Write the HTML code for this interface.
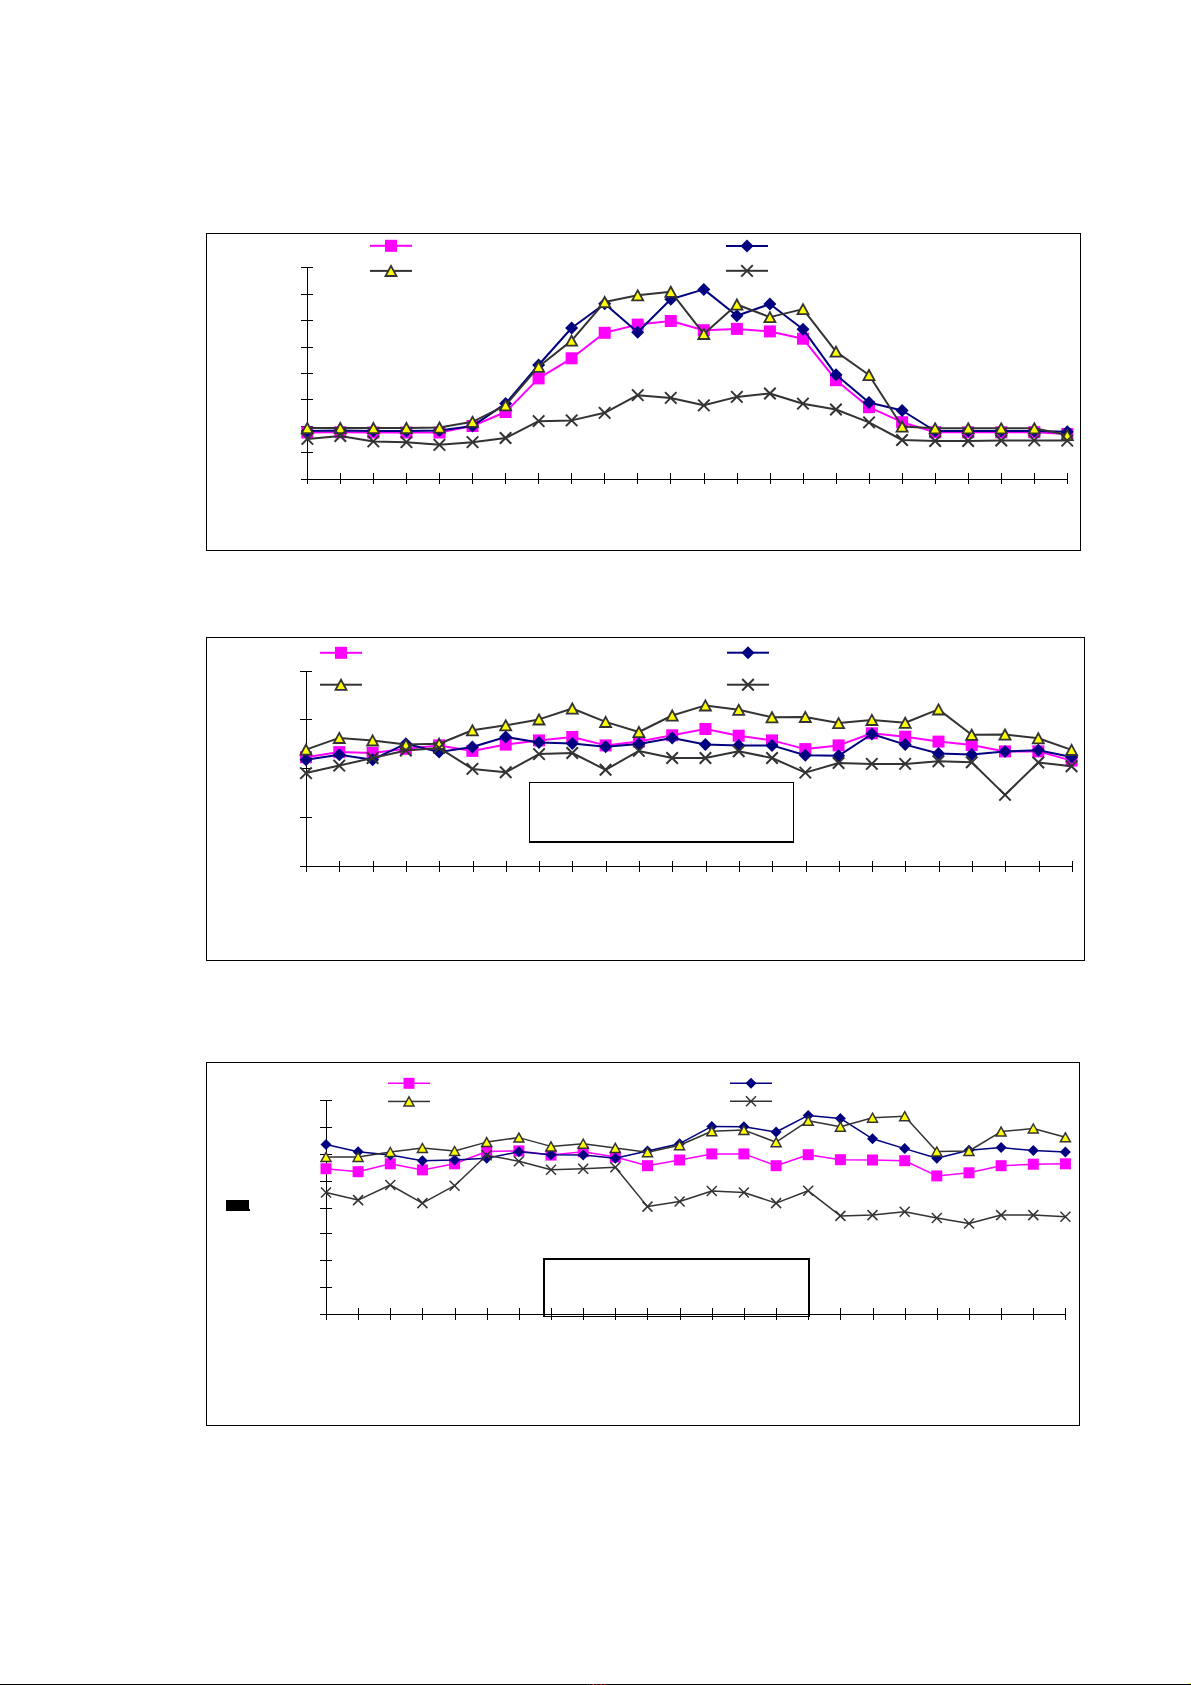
<!DOCTYPE html>
<html><head><meta charset="utf-8"><title>Charts</title>
<style>html,body{margin:0;padding:0;background:#fff;width:1191px;height:1685px;overflow:hidden;font-family:"Liberation Sans",sans-serif;}</style>
</head><body>
<svg width="1191" height="1685" viewBox="0 0 1191 1685" style="display:block">
<rect width="1191" height="1685" fill="#fff"/>
<rect x="206" y="233" width="875" height="1" fill="#000"/>
<rect x="206" y="550" width="875" height="1" fill="#000"/>
<rect x="206" y="233" width="1" height="318" fill="#000"/>
<rect x="1080" y="233" width="1" height="318" fill="#000"/>
<rect x="307" y="267" width="1" height="213" fill="#000"/>
<rect x="301" y="267" width="12" height="1" fill="#000"/>
<rect x="301" y="294" width="12" height="1" fill="#000"/>
<rect x="301" y="320" width="12" height="1" fill="#000"/>
<rect x="301" y="347" width="12" height="1" fill="#000"/>
<rect x="301" y="373" width="12" height="1" fill="#000"/>
<rect x="301" y="399" width="12" height="1" fill="#000"/>
<rect x="301" y="426" width="12" height="1" fill="#000"/>
<rect x="301" y="452" width="12" height="1" fill="#000"/>
<rect x="301" y="479" width="12" height="1" fill="#000"/>
<rect x="301" y="479" width="767" height="1" fill="#000"/>
<rect x="307" y="473" width="1" height="11" fill="#000"/>
<rect x="340" y="473" width="1" height="11" fill="#000"/>
<rect x="373" y="473" width="1" height="11" fill="#000"/>
<rect x="406" y="473" width="1" height="11" fill="#000"/>
<rect x="439" y="473" width="1" height="11" fill="#000"/>
<rect x="472" y="473" width="1" height="11" fill="#000"/>
<rect x="505" y="473" width="1" height="11" fill="#000"/>
<rect x="538" y="473" width="1" height="11" fill="#000"/>
<rect x="571" y="473" width="1" height="11" fill="#000"/>
<rect x="604" y="473" width="1" height="11" fill="#000"/>
<rect x="637" y="473" width="1" height="11" fill="#000"/>
<rect x="670" y="473" width="1" height="11" fill="#000"/>
<rect x="704" y="473" width="1" height="11" fill="#000"/>
<rect x="737" y="473" width="1" height="11" fill="#000"/>
<rect x="770" y="473" width="1" height="11" fill="#000"/>
<rect x="803" y="473" width="1" height="11" fill="#000"/>
<rect x="836" y="473" width="1" height="11" fill="#000"/>
<rect x="869" y="473" width="1" height="11" fill="#000"/>
<rect x="902" y="473" width="1" height="11" fill="#000"/>
<rect x="935" y="473" width="1" height="11" fill="#000"/>
<rect x="968" y="473" width="1" height="11" fill="#000"/>
<rect x="1001" y="473" width="1" height="11" fill="#000"/>
<rect x="1034" y="473" width="1" height="11" fill="#000"/>
<rect x="1067" y="473" width="1" height="11" fill="#000"/>
<rect x="370" y="244.8" width="42" height="2" fill="#FF00FF"/>
<rect x="385" y="239.8" width="12" height="12" fill="#FF00FF"/>
<rect x="726" y="245" width="42" height="2" fill="#000080"/>
<path d="M747 239.5L753.5 246L747 252.5L740.5 246Z" fill="#000080"/>
<rect x="370" y="269.9" width="42" height="2" fill="#333333"/>
<path d="M391 265.9L396.5 276L385.5 276Z" fill="#FFFF00" stroke="#333333" stroke-width="1.8" stroke-linejoin="miter"/>
<rect x="726" y="269.8" width="42" height="2" fill="#333333"/>
<path d="M741.2 265.1L752.8 276.6M752.8 265.1L741.2 276.6" stroke="#333333" stroke-width="2" fill="none"/>
<polyline points="307.3,432.5 340.3,432.2 373.4,432.5 406.4,432.5 439.5,432.5 472.5,426 505.6,412 538.6,378.4 571.6,358.3 604.7,332.8 637.7,324.6 670.8,321 703.8,330.2 736.9,328.9 769.9,331.4 803,338.7 836,380.2 869,407.2 902.1,422.2 935.1,432.2 968.2,432.3 1001.2,432.3 1034.3,432.2 1067.3,434" fill="none" stroke="#FF00FF" stroke-width="2" stroke-linejoin="round"/>
<rect x="301.3" y="426.5" width="12" height="12" fill="#FF00FF"/>
<rect x="334.3" y="426.2" width="12" height="12" fill="#FF00FF"/>
<rect x="367.4" y="426.5" width="12" height="12" fill="#FF00FF"/>
<rect x="400.4" y="426.5" width="12" height="12" fill="#FF00FF"/>
<rect x="433.5" y="426.5" width="12" height="12" fill="#FF00FF"/>
<rect x="466.5" y="420" width="12" height="12" fill="#FF00FF"/>
<rect x="499.6" y="406" width="12" height="12" fill="#FF00FF"/>
<rect x="532.6" y="372.4" width="12" height="12" fill="#FF00FF"/>
<rect x="565.6" y="352.3" width="12" height="12" fill="#FF00FF"/>
<rect x="598.7" y="326.8" width="12" height="12" fill="#FF00FF"/>
<rect x="631.7" y="318.6" width="12" height="12" fill="#FF00FF"/>
<rect x="664.8" y="315" width="12" height="12" fill="#FF00FF"/>
<rect x="697.8" y="324.2" width="12" height="12" fill="#FF00FF"/>
<rect x="730.9" y="322.9" width="12" height="12" fill="#FF00FF"/>
<rect x="763.9" y="325.4" width="12" height="12" fill="#FF00FF"/>
<rect x="797" y="332.7" width="12" height="12" fill="#FF00FF"/>
<rect x="830" y="374.2" width="12" height="12" fill="#FF00FF"/>
<rect x="863" y="401.2" width="12" height="12" fill="#FF00FF"/>
<rect x="896.1" y="416.2" width="12" height="12" fill="#FF00FF"/>
<rect x="929.1" y="426.2" width="12" height="12" fill="#FF00FF"/>
<rect x="962.2" y="426.3" width="12" height="12" fill="#FF00FF"/>
<rect x="995.2" y="426.3" width="12" height="12" fill="#FF00FF"/>
<rect x="1028.3" y="426.2" width="12" height="12" fill="#FF00FF"/>
<rect x="1061.3" y="428" width="12" height="12" fill="#FF00FF"/>
<polyline points="307.3,431 340.3,430.5 373.4,431 406.4,431 439.5,430.5 472.5,426.1 505.6,403.6 538.6,365 571.6,328 604.7,303.7 637.7,332.2 670.8,299.2 703.8,289.4 736.9,315.8 769.9,304 803,329.2 836,374.8 869,402.5 902.1,410.5 935.1,431 968.2,431 1001.2,431 1034.3,430.9 1067.3,431.7" fill="none" stroke="#000080" stroke-width="2" stroke-linejoin="round"/>
<path d="M307.3 424.5L313.8 431L307.3 437.5L300.8 431Z" fill="#000080"/>
<path d="M340.3 424L346.8 430.5L340.3 437L333.8 430.5Z" fill="#000080"/>
<path d="M373.4 424.5L379.9 431L373.4 437.5L366.9 431Z" fill="#000080"/>
<path d="M406.4 424.5L412.9 431L406.4 437.5L399.9 431Z" fill="#000080"/>
<path d="M439.5 424L446 430.5L439.5 437L433 430.5Z" fill="#000080"/>
<path d="M472.5 419.6L479 426.1L472.5 432.6L466 426.1Z" fill="#000080"/>
<path d="M505.6 397.1L512.1 403.6L505.6 410.1L499.1 403.6Z" fill="#000080"/>
<path d="M538.6 358.5L545.1 365L538.6 371.5L532.1 365Z" fill="#000080"/>
<path d="M571.6 321.5L578.1 328L571.6 334.5L565.1 328Z" fill="#000080"/>
<path d="M604.7 297.2L611.2 303.7L604.7 310.2L598.2 303.7Z" fill="#000080"/>
<path d="M637.7 325.7L644.2 332.2L637.7 338.7L631.2 332.2Z" fill="#000080"/>
<path d="M670.8 292.7L677.3 299.2L670.8 305.7L664.3 299.2Z" fill="#000080"/>
<path d="M703.8 282.9L710.3 289.4L703.8 295.9L697.3 289.4Z" fill="#000080"/>
<path d="M736.9 309.3L743.4 315.8L736.9 322.3L730.4 315.8Z" fill="#000080"/>
<path d="M769.9 297.5L776.4 304L769.9 310.5L763.4 304Z" fill="#000080"/>
<path d="M803 322.7L809.5 329.2L803 335.7L796.5 329.2Z" fill="#000080"/>
<path d="M836 368.3L842.5 374.8L836 381.3L829.5 374.8Z" fill="#000080"/>
<path d="M869 396L875.5 402.5L869 409L862.5 402.5Z" fill="#000080"/>
<path d="M902.1 404L908.6 410.5L902.1 417L895.6 410.5Z" fill="#000080"/>
<path d="M935.1 424.5L941.6 431L935.1 437.5L928.6 431Z" fill="#000080"/>
<path d="M968.2 424.5L974.7 431L968.2 437.5L961.7 431Z" fill="#000080"/>
<path d="M1001.2 424.5L1007.7 431L1001.2 437.5L994.7 431Z" fill="#000080"/>
<path d="M1034.3 424.4L1040.8 430.9L1034.3 437.4L1027.8 430.9Z" fill="#000080"/>
<path d="M1067.3 425.2L1073.8 431.7L1067.3 438.2L1060.8 431.7Z" fill="#000080"/>
<polyline points="307.3,428 340.3,428 373.4,428 406.4,428 439.5,427.5 472.5,421.8 505.6,405.3 538.6,366.7 571.6,340.6 604.7,302 637.7,295.3 670.8,291.7 703.8,333.9 736.9,304.5 769.9,317.1 803,309.1 836,351.6 869,375 902.1,426.5 935.1,428.3 968.2,428.3 1001.2,428.3 1034.3,428.3 1067.3,435" fill="none" stroke="#333333" stroke-width="2" stroke-linejoin="round"/>
<path d="M307.3 423L312.8 433.1L301.8 433.1Z" fill="#FFFF00" stroke="#333333" stroke-width="1.8" stroke-linejoin="miter"/>
<path d="M340.3 423L345.8 433.1L334.8 433.1Z" fill="#FFFF00" stroke="#333333" stroke-width="1.8" stroke-linejoin="miter"/>
<path d="M373.4 423L378.9 433.1L367.9 433.1Z" fill="#FFFF00" stroke="#333333" stroke-width="1.8" stroke-linejoin="miter"/>
<path d="M406.4 423L411.9 433.1L400.9 433.1Z" fill="#FFFF00" stroke="#333333" stroke-width="1.8" stroke-linejoin="miter"/>
<path d="M439.5 422.5L445 432.6L434 432.6Z" fill="#FFFF00" stroke="#333333" stroke-width="1.8" stroke-linejoin="miter"/>
<path d="M472.5 416.8L478 426.9L467 426.9Z" fill="#FFFF00" stroke="#333333" stroke-width="1.8" stroke-linejoin="miter"/>
<path d="M505.6 400.3L511.1 410.4L500.1 410.4Z" fill="#FFFF00" stroke="#333333" stroke-width="1.8" stroke-linejoin="miter"/>
<path d="M538.6 361.7L544.1 371.8L533.1 371.8Z" fill="#FFFF00" stroke="#333333" stroke-width="1.8" stroke-linejoin="miter"/>
<path d="M571.6 335.6L577.1 345.7L566.1 345.7Z" fill="#FFFF00" stroke="#333333" stroke-width="1.8" stroke-linejoin="miter"/>
<path d="M604.7 297L610.2 307.1L599.2 307.1Z" fill="#FFFF00" stroke="#333333" stroke-width="1.8" stroke-linejoin="miter"/>
<path d="M637.7 290.3L643.2 300.4L632.2 300.4Z" fill="#FFFF00" stroke="#333333" stroke-width="1.8" stroke-linejoin="miter"/>
<path d="M670.8 286.7L676.3 296.8L665.3 296.8Z" fill="#FFFF00" stroke="#333333" stroke-width="1.8" stroke-linejoin="miter"/>
<path d="M703.8 328.9L709.3 339L698.3 339Z" fill="#FFFF00" stroke="#333333" stroke-width="1.8" stroke-linejoin="miter"/>
<path d="M736.9 299.5L742.4 309.6L731.4 309.6Z" fill="#FFFF00" stroke="#333333" stroke-width="1.8" stroke-linejoin="miter"/>
<path d="M769.9 312.1L775.4 322.2L764.4 322.2Z" fill="#FFFF00" stroke="#333333" stroke-width="1.8" stroke-linejoin="miter"/>
<path d="M803 304.1L808.5 314.2L797.5 314.2Z" fill="#FFFF00" stroke="#333333" stroke-width="1.8" stroke-linejoin="miter"/>
<path d="M836 346.6L841.5 356.7L830.5 356.7Z" fill="#FFFF00" stroke="#333333" stroke-width="1.8" stroke-linejoin="miter"/>
<path d="M869 370L874.5 380.1L863.5 380.1Z" fill="#FFFF00" stroke="#333333" stroke-width="1.8" stroke-linejoin="miter"/>
<path d="M902.1 421.5L907.6 431.6L896.6 431.6Z" fill="#FFFF00" stroke="#333333" stroke-width="1.8" stroke-linejoin="miter"/>
<path d="M935.1 423.3L940.6 433.4L929.6 433.4Z" fill="#FFFF00" stroke="#333333" stroke-width="1.8" stroke-linejoin="miter"/>
<path d="M968.2 423.3L973.7 433.4L962.7 433.4Z" fill="#FFFF00" stroke="#333333" stroke-width="1.8" stroke-linejoin="miter"/>
<path d="M1001.2 423.3L1006.7 433.4L995.7 433.4Z" fill="#FFFF00" stroke="#333333" stroke-width="1.8" stroke-linejoin="miter"/>
<path d="M1034.3 423.3L1039.8 433.4L1028.8 433.4Z" fill="#FFFF00" stroke="#333333" stroke-width="1.8" stroke-linejoin="miter"/>
<path d="M1067.3 430L1072.8 440.1L1061.8 440.1Z" fill="#FFFF00" stroke="#333333" stroke-width="1.8" stroke-linejoin="miter"/>
<polyline points="307.3,438.9 340.3,436 373.4,441.4 406.4,442.2 439.5,444.8 472.5,442.2 505.6,438 538.6,421.2 571.6,420.4 604.7,412.8 637.7,395.2 670.8,397.9 703.8,405.3 736.9,396.9 769.9,393.5 803,403.7 836,409.5 869,422.4 902.1,440 935.1,441 968.2,441 1001.2,440.5 1034.3,440.4 1067.3,440.6" fill="none" stroke="#333333" stroke-width="2" stroke-linejoin="round"/>
<path d="M301.6 433.1L313.1 444.6M313.1 433.1L301.6 444.6" stroke="#333333" stroke-width="2" fill="none"/>
<path d="M334.6 430.2L346.1 441.8M346.1 430.2L334.6 441.8" stroke="#333333" stroke-width="2" fill="none"/>
<path d="M367.6 435.6L379.1 447.1M379.1 435.6L367.6 447.1" stroke="#333333" stroke-width="2" fill="none"/>
<path d="M400.7 436.4L412.2 447.9M412.2 436.4L400.7 447.9" stroke="#333333" stroke-width="2" fill="none"/>
<path d="M433.7 439.1L445.2 450.6M445.2 439.1L433.7 450.6" stroke="#333333" stroke-width="2" fill="none"/>
<path d="M466.8 436.4L478.3 447.9M478.3 436.4L466.8 447.9" stroke="#333333" stroke-width="2" fill="none"/>
<path d="M499.8 432.2L511.3 443.8M511.3 432.2L499.8 443.8" stroke="#333333" stroke-width="2" fill="none"/>
<path d="M532.9 415.4L544.4 426.9M544.4 415.4L532.9 426.9" stroke="#333333" stroke-width="2" fill="none"/>
<path d="M565.9 414.6L577.4 426.1M577.4 414.6L565.9 426.1" stroke="#333333" stroke-width="2" fill="none"/>
<path d="M598.9 407.1L610.4 418.6M610.4 407.1L598.9 418.6" stroke="#333333" stroke-width="2" fill="none"/>
<path d="M632 389.4L643.5 400.9M643.5 389.4L632 400.9" stroke="#333333" stroke-width="2" fill="none"/>
<path d="M665 392.1L676.5 403.6M676.5 392.1L665 403.6" stroke="#333333" stroke-width="2" fill="none"/>
<path d="M698.1 399.6L709.6 411.1M709.6 399.6L698.1 411.1" stroke="#333333" stroke-width="2" fill="none"/>
<path d="M731.1 391.1L742.6 402.6M742.6 391.1L731.1 402.6" stroke="#333333" stroke-width="2" fill="none"/>
<path d="M764.2 387.8L775.7 399.2M775.7 387.8L764.2 399.2" stroke="#333333" stroke-width="2" fill="none"/>
<path d="M797.2 397.9L808.7 409.4M808.7 397.9L797.2 409.4" stroke="#333333" stroke-width="2" fill="none"/>
<path d="M830.2 403.8L841.7 415.2M841.7 403.8L830.2 415.2" stroke="#333333" stroke-width="2" fill="none"/>
<path d="M863.3 416.6L874.8 428.1M874.8 416.6L863.3 428.1" stroke="#333333" stroke-width="2" fill="none"/>
<path d="M896.3 434.2L907.8 445.8M907.8 434.2L896.3 445.8" stroke="#333333" stroke-width="2" fill="none"/>
<path d="M929.4 435.2L940.9 446.8M940.9 435.2L929.4 446.8" stroke="#333333" stroke-width="2" fill="none"/>
<path d="M962.4 435.2L973.9 446.8M973.9 435.2L962.4 446.8" stroke="#333333" stroke-width="2" fill="none"/>
<path d="M995.5 434.8L1007 446.2M1007 434.8L995.5 446.2" stroke="#333333" stroke-width="2" fill="none"/>
<path d="M1028.5 434.6L1040 446.1M1040 434.6L1028.5 446.1" stroke="#333333" stroke-width="2" fill="none"/>
<path d="M1061.5 434.9L1073 446.4M1073 434.9L1061.5 446.4" stroke="#333333" stroke-width="2" fill="none"/>
<rect x="206" y="637" width="879" height="1" fill="#000"/>
<rect x="206" y="960" width="879" height="1" fill="#000"/>
<rect x="206" y="637" width="1" height="324" fill="#000"/>
<rect x="1084" y="637" width="1" height="324" fill="#000"/>
<rect x="306" y="671" width="1" height="196" fill="#000"/>
<rect x="300" y="671" width="12" height="1" fill="#000"/>
<rect x="300" y="719" width="12" height="1" fill="#000"/>
<rect x="300" y="768" width="12" height="1" fill="#000"/>
<rect x="300" y="817" width="12" height="1" fill="#000"/>
<rect x="300" y="866" width="12" height="1" fill="#000"/>
<rect x="300" y="866" width="772" height="1" fill="#000"/>
<rect x="306" y="861" width="1" height="11" fill="#000"/>
<rect x="339" y="861" width="1" height="11" fill="#000"/>
<rect x="373" y="861" width="1" height="11" fill="#000"/>
<rect x="406" y="861" width="1" height="11" fill="#000"/>
<rect x="439" y="861" width="1" height="11" fill="#000"/>
<rect x="473" y="861" width="1" height="11" fill="#000"/>
<rect x="506" y="861" width="1" height="11" fill="#000"/>
<rect x="539" y="861" width="1" height="11" fill="#000"/>
<rect x="572" y="861" width="1" height="11" fill="#000"/>
<rect x="606" y="861" width="1" height="11" fill="#000"/>
<rect x="639" y="861" width="1" height="11" fill="#000"/>
<rect x="672" y="861" width="1" height="11" fill="#000"/>
<rect x="706" y="861" width="1" height="11" fill="#000"/>
<rect x="739" y="861" width="1" height="11" fill="#000"/>
<rect x="772" y="861" width="1" height="11" fill="#000"/>
<rect x="806" y="861" width="1" height="11" fill="#000"/>
<rect x="839" y="861" width="1" height="11" fill="#000"/>
<rect x="872" y="861" width="1" height="11" fill="#000"/>
<rect x="905" y="861" width="1" height="11" fill="#000"/>
<rect x="939" y="861" width="1" height="11" fill="#000"/>
<rect x="972" y="861" width="1" height="11" fill="#000"/>
<rect x="1005" y="861" width="1" height="11" fill="#000"/>
<rect x="1039" y="861" width="1" height="11" fill="#000"/>
<rect x="1072" y="861" width="1" height="11" fill="#000"/>
<rect x="529" y="782" width="265" height="1" fill="#000"/>
<rect x="529" y="841" width="265" height="2" fill="#000"/>
<rect x="529" y="782" width="1" height="61" fill="#000"/>
<rect x="793" y="782" width="1" height="61" fill="#000"/>
<rect x="320" y="651.8" width="42" height="2" fill="#FF00FF"/>
<rect x="335" y="646.8" width="12" height="12" fill="#FF00FF"/>
<rect x="727" y="651.7" width="42" height="2" fill="#000080"/>
<path d="M748 646.2L754.5 652.7L748 659.2L741.5 652.7Z" fill="#000080"/>
<rect x="320" y="683.7" width="42" height="2" fill="#333333"/>
<path d="M341 679.7L346.5 689.8L335.5 689.8Z" fill="#FFFF00" stroke="#333333" stroke-width="1.8" stroke-linejoin="miter"/>
<rect x="727" y="683.7" width="42" height="2" fill="#333333"/>
<path d="M742.2 679L753.8 690.5M753.8 679L742.2 690.5" stroke="#333333" stroke-width="2" fill="none"/>
<polyline points="306,757.2 339.3,752.1 372.6,753 405.9,748.8 439.1,745.4 472.4,750.9 505.7,744.6 539,740.4 572.3,737 605.6,745.4 638.9,741.6 672.2,735.3 705.4,729 738.7,735.7 772,740.4 805.3,749.1 838.6,745.4 871.9,733.3 905.2,736.7 938.5,741.6 971.7,745.1 1005,751.4 1038.3,751.4 1071.6,760.6" fill="none" stroke="#FF00FF" stroke-width="2" stroke-linejoin="round"/>
<rect x="300" y="751.2" width="12" height="12" fill="#FF00FF"/>
<rect x="333.3" y="746.1" width="12" height="12" fill="#FF00FF"/>
<rect x="366.6" y="747" width="12" height="12" fill="#FF00FF"/>
<rect x="399.9" y="742.8" width="12" height="12" fill="#FF00FF"/>
<rect x="433.1" y="739.4" width="12" height="12" fill="#FF00FF"/>
<rect x="466.4" y="744.9" width="12" height="12" fill="#FF00FF"/>
<rect x="499.7" y="738.6" width="12" height="12" fill="#FF00FF"/>
<rect x="533" y="734.4" width="12" height="12" fill="#FF00FF"/>
<rect x="566.3" y="731" width="12" height="12" fill="#FF00FF"/>
<rect x="599.6" y="739.4" width="12" height="12" fill="#FF00FF"/>
<rect x="632.9" y="735.6" width="12" height="12" fill="#FF00FF"/>
<rect x="666.2" y="729.3" width="12" height="12" fill="#FF00FF"/>
<rect x="699.4" y="723" width="12" height="12" fill="#FF00FF"/>
<rect x="732.7" y="729.7" width="12" height="12" fill="#FF00FF"/>
<rect x="766" y="734.4" width="12" height="12" fill="#FF00FF"/>
<rect x="799.3" y="743.1" width="12" height="12" fill="#FF00FF"/>
<rect x="832.6" y="739.4" width="12" height="12" fill="#FF00FF"/>
<rect x="865.9" y="727.3" width="12" height="12" fill="#FF00FF"/>
<rect x="899.2" y="730.7" width="12" height="12" fill="#FF00FF"/>
<rect x="932.5" y="735.6" width="12" height="12" fill="#FF00FF"/>
<rect x="965.7" y="739.1" width="12" height="12" fill="#FF00FF"/>
<rect x="999" y="745.4" width="12" height="12" fill="#FF00FF"/>
<rect x="1032.3" y="745.4" width="12" height="12" fill="#FF00FF"/>
<rect x="1065.6" y="754.6" width="12" height="12" fill="#FF00FF"/>
<polyline points="306,759.7 339.3,754.7 372.6,759.7 405.9,743.7 439.1,752.1 472.4,747 505.7,737 539,742.4 572.3,743.4 605.6,746.8 638.9,743.9 672.2,737.9 705.4,744.6 738.7,745.4 772,745.4 805.3,755.3 838.6,755.8 871.9,734 905.2,744.6 938.5,753.5 971.7,754.4 1005,751.4 1038.3,750.2 1071.6,757.1" fill="none" stroke="#000080" stroke-width="2" stroke-linejoin="round"/>
<path d="M306 753.2L312.5 759.7L306 766.2L299.5 759.7Z" fill="#000080"/>
<path d="M339.3 748.2L345.8 754.7L339.3 761.2L332.8 754.7Z" fill="#000080"/>
<path d="M372.6 753.2L379.1 759.7L372.6 766.2L366.1 759.7Z" fill="#000080"/>
<path d="M405.9 737.2L412.4 743.7L405.9 750.2L399.4 743.7Z" fill="#000080"/>
<path d="M439.1 745.6L445.6 752.1L439.1 758.6L432.6 752.1Z" fill="#000080"/>
<path d="M472.4 740.5L478.9 747L472.4 753.5L465.9 747Z" fill="#000080"/>
<path d="M505.7 730.5L512.2 737L505.7 743.5L499.2 737Z" fill="#000080"/>
<path d="M539 735.9L545.5 742.4L539 748.9L532.5 742.4Z" fill="#000080"/>
<path d="M572.3 736.9L578.8 743.4L572.3 749.9L565.8 743.4Z" fill="#000080"/>
<path d="M605.6 740.3L612.1 746.8L605.6 753.3L599.1 746.8Z" fill="#000080"/>
<path d="M638.9 737.4L645.4 743.9L638.9 750.4L632.4 743.9Z" fill="#000080"/>
<path d="M672.2 731.4L678.7 737.9L672.2 744.4L665.7 737.9Z" fill="#000080"/>
<path d="M705.4 738.1L711.9 744.6L705.4 751.1L698.9 744.6Z" fill="#000080"/>
<path d="M738.7 738.9L745.2 745.4L738.7 751.9L732.2 745.4Z" fill="#000080"/>
<path d="M772 738.9L778.5 745.4L772 751.9L765.5 745.4Z" fill="#000080"/>
<path d="M805.3 748.8L811.8 755.3L805.3 761.8L798.8 755.3Z" fill="#000080"/>
<path d="M838.6 749.3L845.1 755.8L838.6 762.3L832.1 755.8Z" fill="#000080"/>
<path d="M871.9 727.5L878.4 734L871.9 740.5L865.4 734Z" fill="#000080"/>
<path d="M905.2 738.1L911.7 744.6L905.2 751.1L898.7 744.6Z" fill="#000080"/>
<path d="M938.5 747L945 753.5L938.5 760L932 753.5Z" fill="#000080"/>
<path d="M971.7 747.9L978.2 754.4L971.7 760.9L965.2 754.4Z" fill="#000080"/>
<path d="M1005 744.9L1011.5 751.4L1005 757.9L998.5 751.4Z" fill="#000080"/>
<path d="M1038.3 743.7L1044.8 750.2L1038.3 756.7L1031.8 750.2Z" fill="#000080"/>
<path d="M1071.6 750.6L1078.1 757.1L1071.6 763.6L1065.1 757.1Z" fill="#000080"/>
<polyline points="306,749.6 339.3,737.9 372.6,740.4 405.9,744.6 439.1,743.7 472.4,730.3 505.7,725.3 539,719.4 572.3,708.5 605.6,721.9 638.9,732 672.2,715.5 705.4,705.4 738.7,709.8 772,717.2 805.3,716.9 838.6,723.1 871.9,719.9 905.2,722.7 938.5,709.4 971.7,734.7 1005,734.5 1038.3,738.2 1071.6,749.9" fill="none" stroke="#333333" stroke-width="2" stroke-linejoin="round"/>
<path d="M306 744.6L311.5 754.7L300.5 754.7Z" fill="#FFFF00" stroke="#333333" stroke-width="1.8" stroke-linejoin="miter"/>
<path d="M339.3 732.9L344.8 743L333.8 743Z" fill="#FFFF00" stroke="#333333" stroke-width="1.8" stroke-linejoin="miter"/>
<path d="M372.6 735.4L378.1 745.5L367.1 745.5Z" fill="#FFFF00" stroke="#333333" stroke-width="1.8" stroke-linejoin="miter"/>
<path d="M405.9 739.6L411.4 749.7L400.4 749.7Z" fill="#FFFF00" stroke="#333333" stroke-width="1.8" stroke-linejoin="miter"/>
<path d="M439.1 738.7L444.6 748.8L433.6 748.8Z" fill="#FFFF00" stroke="#333333" stroke-width="1.8" stroke-linejoin="miter"/>
<path d="M472.4 725.3L477.9 735.4L466.9 735.4Z" fill="#FFFF00" stroke="#333333" stroke-width="1.8" stroke-linejoin="miter"/>
<path d="M505.7 720.3L511.2 730.4L500.2 730.4Z" fill="#FFFF00" stroke="#333333" stroke-width="1.8" stroke-linejoin="miter"/>
<path d="M539 714.4L544.5 724.5L533.5 724.5Z" fill="#FFFF00" stroke="#333333" stroke-width="1.8" stroke-linejoin="miter"/>
<path d="M572.3 703.5L577.8 713.6L566.8 713.6Z" fill="#FFFF00" stroke="#333333" stroke-width="1.8" stroke-linejoin="miter"/>
<path d="M605.6 716.9L611.1 727L600.1 727Z" fill="#FFFF00" stroke="#333333" stroke-width="1.8" stroke-linejoin="miter"/>
<path d="M638.9 727L644.4 737.1L633.4 737.1Z" fill="#FFFF00" stroke="#333333" stroke-width="1.8" stroke-linejoin="miter"/>
<path d="M672.2 710.5L677.7 720.6L666.7 720.6Z" fill="#FFFF00" stroke="#333333" stroke-width="1.8" stroke-linejoin="miter"/>
<path d="M705.4 700.4L710.9 710.5L699.9 710.5Z" fill="#FFFF00" stroke="#333333" stroke-width="1.8" stroke-linejoin="miter"/>
<path d="M738.7 704.8L744.2 714.9L733.2 714.9Z" fill="#FFFF00" stroke="#333333" stroke-width="1.8" stroke-linejoin="miter"/>
<path d="M772 712.2L777.5 722.3L766.5 722.3Z" fill="#FFFF00" stroke="#333333" stroke-width="1.8" stroke-linejoin="miter"/>
<path d="M805.3 711.9L810.8 722L799.8 722Z" fill="#FFFF00" stroke="#333333" stroke-width="1.8" stroke-linejoin="miter"/>
<path d="M838.6 718.1L844.1 728.2L833.1 728.2Z" fill="#FFFF00" stroke="#333333" stroke-width="1.8" stroke-linejoin="miter"/>
<path d="M871.9 714.9L877.4 725L866.4 725Z" fill="#FFFF00" stroke="#333333" stroke-width="1.8" stroke-linejoin="miter"/>
<path d="M905.2 717.7L910.7 727.8L899.7 727.8Z" fill="#FFFF00" stroke="#333333" stroke-width="1.8" stroke-linejoin="miter"/>
<path d="M938.5 704.4L944 714.5L933 714.5Z" fill="#FFFF00" stroke="#333333" stroke-width="1.8" stroke-linejoin="miter"/>
<path d="M971.7 729.7L977.2 739.8L966.2 739.8Z" fill="#FFFF00" stroke="#333333" stroke-width="1.8" stroke-linejoin="miter"/>
<path d="M1005 729.5L1010.5 739.6L999.5 739.6Z" fill="#FFFF00" stroke="#333333" stroke-width="1.8" stroke-linejoin="miter"/>
<path d="M1038.3 733.2L1043.8 743.3L1032.8 743.3Z" fill="#FFFF00" stroke="#333333" stroke-width="1.8" stroke-linejoin="miter"/>
<path d="M1071.6 744.9L1077.1 755L1066.1 755Z" fill="#FFFF00" stroke="#333333" stroke-width="1.8" stroke-linejoin="miter"/>
<polyline points="306,773.1 339.3,765.6 372.6,758 405.9,750.5 439.1,747.9 472.4,768.9 505.7,772.3 539,754.1 572.3,753 605.6,769.8 638.9,750.9 672.2,758 705.4,758 738.7,751.3 772,758 805.3,772.6 838.6,763 871.9,763.9 905.2,763.9 938.5,761.2 971.7,762.3 1005,794.9 1038.3,762.5 1071.6,766.3" fill="none" stroke="#333333" stroke-width="2" stroke-linejoin="round"/>
<path d="M300.2 767.4L311.8 778.9M311.8 767.4L300.2 778.9" stroke="#333333" stroke-width="2" fill="none"/>
<path d="M333.5 759.9L345 771.4M345 759.9L333.5 771.4" stroke="#333333" stroke-width="2" fill="none"/>
<path d="M366.8 752.2L378.3 763.8M378.3 752.2L366.8 763.8" stroke="#333333" stroke-width="2" fill="none"/>
<path d="M400.1 744.8L411.6 756.2M411.6 744.8L400.1 756.2" stroke="#333333" stroke-width="2" fill="none"/>
<path d="M433.4 742.1L444.9 753.6M444.9 742.1L433.4 753.6" stroke="#333333" stroke-width="2" fill="none"/>
<path d="M466.7 763.1L478.2 774.6M478.2 763.1L466.7 774.6" stroke="#333333" stroke-width="2" fill="none"/>
<path d="M500 766.5L511.5 778M511.5 766.5L500 778" stroke="#333333" stroke-width="2" fill="none"/>
<path d="M533.3 748.4L544.8 759.9M544.8 748.4L533.3 759.9" stroke="#333333" stroke-width="2" fill="none"/>
<path d="M566.5 747.2L578 758.8M578 747.2L566.5 758.8" stroke="#333333" stroke-width="2" fill="none"/>
<path d="M599.8 764L611.3 775.5M611.3 764L599.8 775.5" stroke="#333333" stroke-width="2" fill="none"/>
<path d="M633.1 745.1L644.6 756.6M644.6 745.1L633.1 756.6" stroke="#333333" stroke-width="2" fill="none"/>
<path d="M666.4 752.2L677.9 763.8M677.9 752.2L666.4 763.8" stroke="#333333" stroke-width="2" fill="none"/>
<path d="M699.7 752.2L711.2 763.8M711.2 752.2L699.7 763.8" stroke="#333333" stroke-width="2" fill="none"/>
<path d="M733 745.5L744.5 757M744.5 745.5L733 757" stroke="#333333" stroke-width="2" fill="none"/>
<path d="M766.3 752.2L777.8 763.8M777.8 752.2L766.3 763.8" stroke="#333333" stroke-width="2" fill="none"/>
<path d="M799.6 766.9L811.1 778.4M811.1 766.9L799.6 778.4" stroke="#333333" stroke-width="2" fill="none"/>
<path d="M832.8 757.2L844.3 768.8M844.3 757.2L832.8 768.8" stroke="#333333" stroke-width="2" fill="none"/>
<path d="M866.1 758.1L877.6 769.6M877.6 758.1L866.1 769.6" stroke="#333333" stroke-width="2" fill="none"/>
<path d="M899.4 758.1L910.9 769.6M910.9 758.1L899.4 769.6" stroke="#333333" stroke-width="2" fill="none"/>
<path d="M932.7 755.5L944.2 767M944.2 755.5L932.7 767" stroke="#333333" stroke-width="2" fill="none"/>
<path d="M966 756.5L977.5 768M977.5 756.5L966 768" stroke="#333333" stroke-width="2" fill="none"/>
<path d="M999.3 789.1L1010.8 800.6M1010.8 789.1L999.3 800.6" stroke="#333333" stroke-width="2" fill="none"/>
<path d="M1032.6 756.8L1044.1 768.2M1044.1 756.8L1032.6 768.2" stroke="#333333" stroke-width="2" fill="none"/>
<path d="M1065.8 760.5L1077.3 772M1077.3 760.5L1065.8 772" stroke="#333333" stroke-width="2" fill="none"/>
<rect x="206" y="1062" width="874" height="1" fill="#000"/>
<rect x="206" y="1425" width="874" height="1" fill="#000"/>
<rect x="206" y="1062" width="1" height="364" fill="#000"/>
<rect x="1079" y="1062" width="1" height="364" fill="#000"/>
<rect x="326" y="1100" width="1" height="215" fill="#000"/>
<rect x="320" y="1100" width="12" height="1" fill="#000"/>
<rect x="320" y="1127" width="12" height="1" fill="#000"/>
<rect x="320" y="1154" width="12" height="1" fill="#000"/>
<rect x="320" y="1181" width="12" height="1" fill="#000"/>
<rect x="320" y="1208" width="12" height="1" fill="#000"/>
<rect x="320" y="1233" width="12" height="1" fill="#000"/>
<rect x="320" y="1260" width="12" height="1" fill="#000"/>
<rect x="320" y="1287" width="12" height="1" fill="#000"/>
<rect x="320" y="1314" width="12" height="1" fill="#000"/>
<rect x="320" y="1314" width="746" height="1" fill="#000"/>
<rect x="326" y="1308" width="1" height="12" fill="#000"/>
<rect x="358" y="1308" width="1" height="12" fill="#000"/>
<rect x="390" y="1308" width="1" height="12" fill="#000"/>
<rect x="422" y="1308" width="1" height="12" fill="#000"/>
<rect x="455" y="1308" width="1" height="12" fill="#000"/>
<rect x="487" y="1308" width="1" height="12" fill="#000"/>
<rect x="519" y="1308" width="1" height="12" fill="#000"/>
<rect x="551" y="1308" width="1" height="12" fill="#000"/>
<rect x="583" y="1308" width="1" height="12" fill="#000"/>
<rect x="615" y="1308" width="1" height="12" fill="#000"/>
<rect x="647" y="1308" width="1" height="12" fill="#000"/>
<rect x="680" y="1308" width="1" height="12" fill="#000"/>
<rect x="712" y="1308" width="1" height="12" fill="#000"/>
<rect x="744" y="1308" width="1" height="12" fill="#000"/>
<rect x="776" y="1308" width="1" height="12" fill="#000"/>
<rect x="808" y="1308" width="1" height="12" fill="#000"/>
<rect x="840" y="1308" width="1" height="12" fill="#000"/>
<rect x="873" y="1308" width="1" height="12" fill="#000"/>
<rect x="905" y="1308" width="1" height="12" fill="#000"/>
<rect x="937" y="1308" width="1" height="12" fill="#000"/>
<rect x="969" y="1308" width="1" height="12" fill="#000"/>
<rect x="1001" y="1308" width="1" height="12" fill="#000"/>
<rect x="1033" y="1308" width="1" height="12" fill="#000"/>
<rect x="1065" y="1308" width="1" height="12" fill="#000"/>
<rect x="543" y="1258" width="267" height="2" fill="#000"/>
<rect x="543" y="1316" width="267" height="1" fill="#000"/>
<rect x="543" y="1258" width="2" height="59" fill="#000"/>
<rect x="808" y="1258" width="2" height="59" fill="#000"/>
<rect x="388" y="1082.5" width="42" height="1.5" fill="#FF00FF"/>
<rect x="403.5" y="1077.8" width="11" height="11" fill="#FF00FF"/>
<rect x="730" y="1082.5" width="42" height="1.5" fill="#000080"/>
<path d="M751 1077.8L756.5 1083.3L751 1088.8L745.5 1083.3Z" fill="#000080"/>
<rect x="388" y="1100.7" width="42" height="1.5" fill="#333333"/>
<path d="M409 1096.9L414 1105.9L404 1105.9Z" fill="#FFFF00" stroke="#333333" stroke-width="1.5" stroke-linejoin="miter"/>
<rect x="730" y="1100.5" width="42" height="1.5" fill="#333333"/>
<path d="M746 1096.3L756 1106.3M756 1096.3L746 1106.3" stroke="#333333" stroke-width="1.5" fill="none"/>
<polyline points="326,1168.7 358.1,1171.7 390.3,1163.8 422.4,1169.9 454.6,1163.8 486.7,1151.5 518.9,1150.9 551,1155.1 583.2,1151.7 615.3,1157 647.5,1165.7 679.6,1160 711.8,1153.9 743.9,1153.9 776.1,1165.7 808.2,1154.7 840.4,1159.7 872.5,1160 904.7,1160.7 936.8,1175.9 969,1172.8 1001.1,1165.7 1033.3,1164.2 1065.4,1163.8" fill="none" stroke="#FF00FF" stroke-width="1.5" stroke-linejoin="round"/>
<rect x="320.5" y="1163.2" width="11" height="11" fill="#FF00FF"/>
<rect x="352.6" y="1166.2" width="11" height="11" fill="#FF00FF"/>
<rect x="384.8" y="1158.3" width="11" height="11" fill="#FF00FF"/>
<rect x="416.9" y="1164.4" width="11" height="11" fill="#FF00FF"/>
<rect x="449.1" y="1158.3" width="11" height="11" fill="#FF00FF"/>
<rect x="481.2" y="1146" width="11" height="11" fill="#FF00FF"/>
<rect x="513.4" y="1145.4" width="11" height="11" fill="#FF00FF"/>
<rect x="545.5" y="1149.6" width="11" height="11" fill="#FF00FF"/>
<rect x="577.7" y="1146.2" width="11" height="11" fill="#FF00FF"/>
<rect x="609.8" y="1151.5" width="11" height="11" fill="#FF00FF"/>
<rect x="642" y="1160.2" width="11" height="11" fill="#FF00FF"/>
<rect x="674.1" y="1154.5" width="11" height="11" fill="#FF00FF"/>
<rect x="706.3" y="1148.4" width="11" height="11" fill="#FF00FF"/>
<rect x="738.4" y="1148.4" width="11" height="11" fill="#FF00FF"/>
<rect x="770.6" y="1160.2" width="11" height="11" fill="#FF00FF"/>
<rect x="802.7" y="1149.2" width="11" height="11" fill="#FF00FF"/>
<rect x="834.9" y="1154.2" width="11" height="11" fill="#FF00FF"/>
<rect x="867" y="1154.5" width="11" height="11" fill="#FF00FF"/>
<rect x="899.2" y="1155.2" width="11" height="11" fill="#FF00FF"/>
<rect x="931.3" y="1170.4" width="11" height="11" fill="#FF00FF"/>
<rect x="963.5" y="1167.3" width="11" height="11" fill="#FF00FF"/>
<rect x="995.6" y="1160.2" width="11" height="11" fill="#FF00FF"/>
<rect x="1027.8" y="1158.7" width="11" height="11" fill="#FF00FF"/>
<rect x="1059.9" y="1158.3" width="11" height="11" fill="#FF00FF"/>
<polyline points="326,1144.5 358.1,1151.7 390.3,1155.1 422.4,1160.8 454.6,1160 486.7,1158.3 518.9,1151.7 551,1154.7 583.2,1155.1 615.3,1158.2 647.5,1150.9 679.6,1143.7 711.8,1126.4 743.9,1126.7 776.1,1132 808.2,1115.4 840.4,1118.4 872.5,1138.8 904.7,1148.6 936.8,1158.3 969,1150.2 1001.1,1147.6 1033.3,1150.6 1065.4,1152.1" fill="none" stroke="#000080" stroke-width="1.5" stroke-linejoin="round"/>
<path d="M326 1139L331.5 1144.5L326 1150L320.5 1144.5Z" fill="#000080"/>
<path d="M358.1 1146.2L363.6 1151.7L358.1 1157.2L352.6 1151.7Z" fill="#000080"/>
<path d="M390.3 1149.6L395.8 1155.1L390.3 1160.6L384.8 1155.1Z" fill="#000080"/>
<path d="M422.4 1155.3L427.9 1160.8L422.4 1166.3L416.9 1160.8Z" fill="#000080"/>
<path d="M454.6 1154.5L460.1 1160L454.6 1165.5L449.1 1160Z" fill="#000080"/>
<path d="M486.7 1152.8L492.2 1158.3L486.7 1163.8L481.2 1158.3Z" fill="#000080"/>
<path d="M518.9 1146.2L524.4 1151.7L518.9 1157.2L513.4 1151.7Z" fill="#000080"/>
<path d="M551 1149.2L556.5 1154.7L551 1160.2L545.5 1154.7Z" fill="#000080"/>
<path d="M583.2 1149.6L588.7 1155.1L583.2 1160.6L577.7 1155.1Z" fill="#000080"/>
<path d="M615.3 1152.7L620.8 1158.2L615.3 1163.7L609.8 1158.2Z" fill="#000080"/>
<path d="M647.5 1145.4L653 1150.9L647.5 1156.4L642 1150.9Z" fill="#000080"/>
<path d="M679.6 1138.2L685.1 1143.7L679.6 1149.2L674.1 1143.7Z" fill="#000080"/>
<path d="M711.8 1120.9L717.3 1126.4L711.8 1131.9L706.3 1126.4Z" fill="#000080"/>
<path d="M743.9 1121.2L749.4 1126.7L743.9 1132.2L738.4 1126.7Z" fill="#000080"/>
<path d="M776.1 1126.5L781.6 1132L776.1 1137.5L770.6 1132Z" fill="#000080"/>
<path d="M808.2 1109.9L813.7 1115.4L808.2 1120.9L802.7 1115.4Z" fill="#000080"/>
<path d="M840.4 1112.9L845.9 1118.4L840.4 1123.9L834.9 1118.4Z" fill="#000080"/>
<path d="M872.5 1133.3L878 1138.8L872.5 1144.3L867 1138.8Z" fill="#000080"/>
<path d="M904.7 1143.1L910.2 1148.6L904.7 1154.1L899.2 1148.6Z" fill="#000080"/>
<path d="M936.8 1152.8L942.3 1158.3L936.8 1163.8L931.3 1158.3Z" fill="#000080"/>
<path d="M969 1144.7L974.5 1150.2L969 1155.7L963.5 1150.2Z" fill="#000080"/>
<path d="M1001.1 1142.1L1006.6 1147.6L1001.1 1153.1L995.6 1147.6Z" fill="#000080"/>
<path d="M1033.3 1145.1L1038.8 1150.6L1033.3 1156.1L1027.8 1150.6Z" fill="#000080"/>
<path d="M1065.4 1146.6L1070.9 1152.1L1065.4 1157.6L1059.9 1152.1Z" fill="#000080"/>
<polyline points="326,1157 358.1,1157 390.3,1152 422.4,1148 454.6,1151 486.7,1142.1 518.9,1137.6 551,1146.4 583.2,1143.7 615.3,1147.9 647.5,1152.2 679.6,1145.2 711.8,1131.3 743.9,1130.1 776.1,1142.2 808.2,1120.8 840.4,1126.7 872.5,1117.7 904.7,1116.2 936.8,1151.5 969,1151 1001.1,1131.6 1033.3,1128.5 1065.4,1137.3" fill="none" stroke="#333333" stroke-width="1.5" stroke-linejoin="round"/>
<path d="M326 1152.5L331 1161.5L321 1161.5Z" fill="#FFFF00" stroke="#333333" stroke-width="1.5" stroke-linejoin="miter"/>
<path d="M358.1 1152.5L363.1 1161.5L353.1 1161.5Z" fill="#FFFF00" stroke="#333333" stroke-width="1.5" stroke-linejoin="miter"/>
<path d="M390.3 1147.5L395.3 1156.5L385.3 1156.5Z" fill="#FFFF00" stroke="#333333" stroke-width="1.5" stroke-linejoin="miter"/>
<path d="M422.4 1143.5L427.4 1152.5L417.4 1152.5Z" fill="#FFFF00" stroke="#333333" stroke-width="1.5" stroke-linejoin="miter"/>
<path d="M454.6 1146.5L459.6 1155.5L449.6 1155.5Z" fill="#FFFF00" stroke="#333333" stroke-width="1.5" stroke-linejoin="miter"/>
<path d="M486.7 1137.6L491.7 1146.6L481.7 1146.6Z" fill="#FFFF00" stroke="#333333" stroke-width="1.5" stroke-linejoin="miter"/>
<path d="M518.9 1133.1L523.9 1142.1L513.9 1142.1Z" fill="#FFFF00" stroke="#333333" stroke-width="1.5" stroke-linejoin="miter"/>
<path d="M551 1141.9L556 1150.9L546 1150.9Z" fill="#FFFF00" stroke="#333333" stroke-width="1.5" stroke-linejoin="miter"/>
<path d="M583.2 1139.2L588.2 1148.2L578.2 1148.2Z" fill="#FFFF00" stroke="#333333" stroke-width="1.5" stroke-linejoin="miter"/>
<path d="M615.3 1143.4L620.3 1152.4L610.3 1152.4Z" fill="#FFFF00" stroke="#333333" stroke-width="1.5" stroke-linejoin="miter"/>
<path d="M647.5 1147.7L652.5 1156.7L642.5 1156.7Z" fill="#FFFF00" stroke="#333333" stroke-width="1.5" stroke-linejoin="miter"/>
<path d="M679.6 1140.7L684.6 1149.7L674.6 1149.7Z" fill="#FFFF00" stroke="#333333" stroke-width="1.5" stroke-linejoin="miter"/>
<path d="M711.8 1126.8L716.8 1135.8L706.8 1135.8Z" fill="#FFFF00" stroke="#333333" stroke-width="1.5" stroke-linejoin="miter"/>
<path d="M743.9 1125.6L748.9 1134.6L738.9 1134.6Z" fill="#FFFF00" stroke="#333333" stroke-width="1.5" stroke-linejoin="miter"/>
<path d="M776.1 1137.7L781.1 1146.7L771.1 1146.7Z" fill="#FFFF00" stroke="#333333" stroke-width="1.5" stroke-linejoin="miter"/>
<path d="M808.2 1116.3L813.2 1125.3L803.2 1125.3Z" fill="#FFFF00" stroke="#333333" stroke-width="1.5" stroke-linejoin="miter"/>
<path d="M840.4 1122.2L845.4 1131.2L835.4 1131.2Z" fill="#FFFF00" stroke="#333333" stroke-width="1.5" stroke-linejoin="miter"/>
<path d="M872.5 1113.2L877.5 1122.2L867.5 1122.2Z" fill="#FFFF00" stroke="#333333" stroke-width="1.5" stroke-linejoin="miter"/>
<path d="M904.7 1111.7L909.7 1120.7L899.7 1120.7Z" fill="#FFFF00" stroke="#333333" stroke-width="1.5" stroke-linejoin="miter"/>
<path d="M936.8 1147L941.8 1156L931.8 1156Z" fill="#FFFF00" stroke="#333333" stroke-width="1.5" stroke-linejoin="miter"/>
<path d="M969 1146.5L974 1155.5L964 1155.5Z" fill="#FFFF00" stroke="#333333" stroke-width="1.5" stroke-linejoin="miter"/>
<path d="M1001.1 1127.1L1006.1 1136.1L996.1 1136.1Z" fill="#FFFF00" stroke="#333333" stroke-width="1.5" stroke-linejoin="miter"/>
<path d="M1033.3 1124L1038.3 1133L1028.3 1133Z" fill="#FFFF00" stroke="#333333" stroke-width="1.5" stroke-linejoin="miter"/>
<path d="M1065.4 1132.8L1070.4 1141.8L1060.4 1141.8Z" fill="#FFFF00" stroke="#333333" stroke-width="1.5" stroke-linejoin="miter"/>
<polyline points="326,1192.5 358.1,1200.1 390.3,1185 422.4,1203.1 454.6,1185.7 486.7,1155.2 518.9,1161.2 551,1169.8 583.2,1168.7 615.3,1167.2 647.5,1206.6 679.6,1201.5 711.8,1191 743.9,1192.5 776.1,1203.1 808.2,1190.8 840.4,1215.9 872.5,1215.1 904.7,1211.7 936.8,1218 969,1223.5 1001.1,1215.1 1033.3,1215.1 1065.4,1216.7" fill="none" stroke="#333333" stroke-width="1.5" stroke-linejoin="round"/>
<path d="M321 1187.5L331 1197.5M331 1187.5L321 1197.5" stroke="#333333" stroke-width="1.5" fill="none"/>
<path d="M353.1 1195.1L363.1 1205.1M363.1 1195.1L353.1 1205.1" stroke="#333333" stroke-width="1.5" fill="none"/>
<path d="M385.3 1180L395.3 1190M395.3 1180L385.3 1190" stroke="#333333" stroke-width="1.5" fill="none"/>
<path d="M417.4 1198.1L427.4 1208.1M427.4 1198.1L417.4 1208.1" stroke="#333333" stroke-width="1.5" fill="none"/>
<path d="M449.6 1180.7L459.6 1190.7M459.6 1180.7L449.6 1190.7" stroke="#333333" stroke-width="1.5" fill="none"/>
<path d="M481.7 1150.2L491.7 1160.2M491.7 1150.2L481.7 1160.2" stroke="#333333" stroke-width="1.5" fill="none"/>
<path d="M513.9 1156.2L523.9 1166.2M523.9 1156.2L513.9 1166.2" stroke="#333333" stroke-width="1.5" fill="none"/>
<path d="M546 1164.8L556 1174.8M556 1164.8L546 1174.8" stroke="#333333" stroke-width="1.5" fill="none"/>
<path d="M578.2 1163.7L588.2 1173.7M588.2 1163.7L578.2 1173.7" stroke="#333333" stroke-width="1.5" fill="none"/>
<path d="M610.3 1162.2L620.3 1172.2M620.3 1162.2L610.3 1172.2" stroke="#333333" stroke-width="1.5" fill="none"/>
<path d="M642.5 1201.6L652.5 1211.6M652.5 1201.6L642.5 1211.6" stroke="#333333" stroke-width="1.5" fill="none"/>
<path d="M674.6 1196.5L684.6 1206.5M684.6 1196.5L674.6 1206.5" stroke="#333333" stroke-width="1.5" fill="none"/>
<path d="M706.8 1186L716.8 1196M716.8 1186L706.8 1196" stroke="#333333" stroke-width="1.5" fill="none"/>
<path d="M738.9 1187.5L748.9 1197.5M748.9 1187.5L738.9 1197.5" stroke="#333333" stroke-width="1.5" fill="none"/>
<path d="M771.1 1198.1L781.1 1208.1M781.1 1198.1L771.1 1208.1" stroke="#333333" stroke-width="1.5" fill="none"/>
<path d="M803.2 1185.8L813.2 1195.8M813.2 1185.8L803.2 1195.8" stroke="#333333" stroke-width="1.5" fill="none"/>
<path d="M835.4 1210.9L845.4 1220.9M845.4 1210.9L835.4 1220.9" stroke="#333333" stroke-width="1.5" fill="none"/>
<path d="M867.5 1210.1L877.5 1220.1M877.5 1210.1L867.5 1220.1" stroke="#333333" stroke-width="1.5" fill="none"/>
<path d="M899.7 1206.7L909.7 1216.7M909.7 1206.7L899.7 1216.7" stroke="#333333" stroke-width="1.5" fill="none"/>
<path d="M931.8 1213L941.8 1223M941.8 1213L931.8 1223" stroke="#333333" stroke-width="1.5" fill="none"/>
<path d="M964 1218.5L974 1228.5M974 1218.5L964 1228.5" stroke="#333333" stroke-width="1.5" fill="none"/>
<path d="M996.1 1210.1L1006.1 1220.1M1006.1 1210.1L996.1 1220.1" stroke="#333333" stroke-width="1.5" fill="none"/>
<path d="M1028.3 1210.1L1038.3 1220.1M1038.3 1210.1L1028.3 1220.1" stroke="#333333" stroke-width="1.5" fill="none"/>
<path d="M1060.4 1211.7L1070.4 1221.7M1070.4 1211.7L1060.4 1221.7" stroke="#333333" stroke-width="1.5" fill="none"/>
<rect x="226" y="1200" width="23" height="11" fill="#000"/>
<rect x="249" y="1209" width="1" height="2" fill="#000"/>
<rect x="0" y="1684" width="1191" height="1" fill="#000"/>
<rect x="587" y="1684" width="1" height="1" fill="#0000ff"/>
<rect x="589" y="1684" width="1" height="1" fill="#004000"/>
<rect x="592" y="1684" width="1" height="1" fill="#900000"/>
<rect x="593" y="1684" width="1" height="1" fill="#00c000"/>
<rect x="596" y="1684" width="1" height="1" fill="#803000"/>
<rect x="597" y="1684" width="1" height="1" fill="#000080"/>
<rect x="600" y="1684" width="1" height="1" fill="#a00000"/>
<rect x="601" y="1684" width="1" height="1" fill="#0050ff"/>
<rect x="604" y="1684" width="1" height="1" fill="#e00000"/>
<rect x="1190" y="1683" width="1" height="1" fill="#ffff00"/>
</svg>
</body></html>
